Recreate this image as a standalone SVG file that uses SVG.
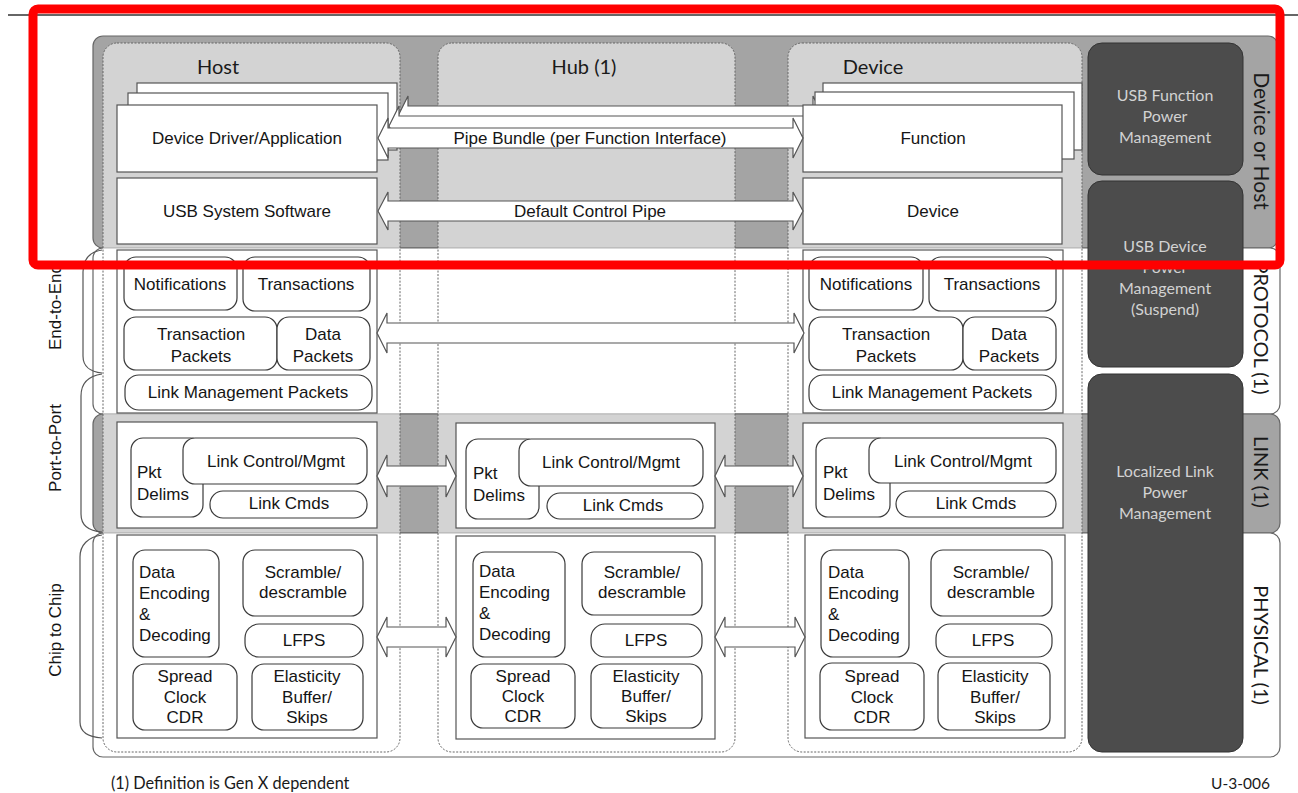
<svg xmlns="http://www.w3.org/2000/svg" width="1298" height="793" viewBox="0 0 1298 793">
  <defs>
    <style>
      .band-g { fill:#a4a4a4; stroke:#666; stroke-width:1.2; }
      .band-w { fill:#ffffff; stroke:#666; stroke-width:1.2; }
      .col { fill:#ffffff; fill-opacity:0.52; stroke:#666; stroke-width:1; stroke-dasharray:2 1.5; }
      .box { fill:#ffffff; stroke:#555; stroke-width:1.2; }
      .rb { fill:#ffffff; stroke:#3a3a3a; stroke-width:1.2; }
      .pm { fill:#4c4c4c; stroke:#333; stroke-width:1; }
      .arr { fill:#ffffff; stroke:#555; stroke-width:1.2; }
      .brk { fill:none; stroke:#555; stroke-width:1.2; }
      .t { font-family:"Liberation Sans", Arial, sans-serif; font-size:17px; fill:#151515; }
      .m { text-anchor:middle; }
      .c { font-family:Lato, "Open Sans", sans-serif; fill:#1a1a1a; }
      .pmt { font-family:Lato, "Open Sans", sans-serif; font-size:16px; fill:#d2d2d2; text-anchor:middle; }
    </style>
  </defs>

  <!-- rule across the top of the page -->
  <line x1="8" y1="15" x2="1298" y2="15" stroke="#333" stroke-width="1.5"/>

  <!-- layer bands -->
  <g id="bands">
    <rect class="band-g" x="93" y="36" width="1185" height="212" rx="10"/>
    <rect class="band-w" x="93" y="248" width="1187" height="166" rx="10"/>
    <rect class="band-g" x="93" y="414" width="1187" height="119" rx="10"/>
    <rect class="band-w" x="93" y="533" width="1187" height="224" rx="10"/>
  </g>

  <!-- left brackets -->
  <g id="brackets">
    <path class="brk" d="M102,250 C89,252 83,260 83,272 L83,356 C83,366 90,372 102,373"/>
    <path class="brk" d="M102,374 C88,376 81,384 81,396 L81,514 C81,525 88,531 102,532"/>
    <path class="brk" d="M102,535 C88,537 80,545 80,557 L80,722 C80,732 88,737 102,738"/>
  </g>

  <!-- column containers -->
  <g id="columns">
    <rect id="col-host" class="col" x="103" y="43" width="297" height="709" rx="14"/>
    <rect id="col-hub" class="col" x="438" y="43" width="297" height="709" rx="14"/>
    <rect id="col-device" class="col" x="788" y="43" width="294" height="709" rx="14"/>
  </g>

  <!-- column headings -->
  <text class="c m" x="218" y="74" font-size="20">Host</text>
  <text class="c m" x="584" y="74" font-size="20">Hub (1)</text>
  <text class="c m" x="873" y="74" font-size="20">Device</text>

  <!-- stacked function-interface pages and pipe bundle -->
  <g id="pipe-bundle-stack">
    <rect class="box" x="137" y="83" width="260" height="67"/>
    <rect class="box" x="823" y="83" width="259" height="67"/>
    <path class="arr" d="M398,116 L408,96 L408,106 L813,106 L813,96 L823,116 L813,136 L813,126 L408,126 L408,136 Z"/>
    <rect class="box" x="128" y="93" width="260" height="67"/>
    <rect class="box" x="815" y="92" width="259" height="67"/>
    <path class="arr" d="M389,126 L399,106 L399,116 L804,116 L804,106 L814,126 L804,146 L804,136 L399,136 L399,146 Z"/>
  </g>

  <g id="node-driver">
    <rect class="box" x="117" y="105" width="260" height="67"/>
    <text class="t m" x="247" y="144">Device Driver/Application</text>
  </g>
  <g id="node-function">
    <rect class="box" x="803" y="105" width="259" height="67"/>
    <text class="t m" x="933" y="144">Function</text>
  </g>
  <g id="node-usbsys">
    <rect class="box" x="117" y="178" width="260" height="66"/>
    <text class="t m" x="247" y="217">USB System Software</text>
  </g>
  <g id="node-device-top">
    <rect class="box" x="803" y="178" width="259" height="66"/>
    <text class="t m" x="933" y="217">Device</text>
  </g>

  <!-- host protocol -->
  <g id="host-protocol">
    <rect class="box" x="117" y="250" width="260" height="163"/>
    <g id="host-notifications"><rect class="rb" x="124" y="257" width="113" height="53" rx="12"/><text class="t m" x="180" y="290">Notifications</text></g>
    <g id="host-transactions"><rect class="rb" x="243" y="257" width="127" height="54" rx="12"/><text class="t m" x="306" y="290">Transactions</text></g>
    <g id="host-tp"><rect class="rb" x="124" y="317" width="153" height="53" rx="12"/><text class="t m" x="201" y="340">Transaction</text><text class="t m" x="201" y="362">Packets</text></g>
    <g id="host-dp"><rect class="rb" x="277" y="317" width="93" height="53" rx="12"/><text class="t m" x="323" y="340">Data</text><text class="t m" x="323" y="362">Packets</text></g>
    <g id="host-lmp"><rect class="rb" x="125" y="375" width="247" height="35" rx="14"/><text class="t m" x="248" y="398">Link Management Packets</text></g>
  </g>

  <!-- host link -->
  <g id="host-link">
    <rect class="box" x="117" y="422" width="260" height="106"/>
    <g id="host-pkt"><rect class="rb" x="131" y="438" width="72" height="79" rx="12"/><text class="t" x="137" y="478">Pkt</text><text class="t" x="137" y="500">Delims</text></g>
    <g id="host-lcm"><rect class="rb" x="183" y="438" width="184" height="46" rx="12"/><text class="t m" x="276" y="467">Link Control/Mgmt</text></g>
    <g id="host-cmds"><rect class="rb" x="210" y="491" width="157" height="27" rx="13"/><text class="t m" x="289" y="509">Link Cmds</text></g>
  </g>

  <!-- host physical -->
  <g id="host-physical">
    <rect class="box" x="117" y="535" width="260" height="203"/>
    <g id="host-enc"><rect class="rb" x="133" y="550" width="86" height="107" rx="12"/><text class="t" x="139" y="578">Data</text><text class="t" x="139" y="599">Encoding</text><text class="t" x="139" y="620">&amp;</text><text class="t" x="139" y="641">Decoding</text></g>
    <g id="host-scr"><rect class="rb" x="243" y="550" width="120" height="66" rx="12"/><text class="t m" x="303" y="578">Scramble/</text><text class="t m" x="303" y="598">descramble</text></g>
    <g id="host-lfps"><rect class="rb" x="245" y="624" width="118" height="33" rx="14"/><text class="t m" x="304" y="646">LFPS</text></g>
    <g id="host-ssc"><rect class="rb" x="133" y="664" width="104" height="66" rx="12"/><text class="t m" x="185" y="682">Spread</text><text class="t m" x="185" y="703">Clock</text><text class="t m" x="185" y="723">CDR</text></g>
    <g id="host-eb"><rect class="rb" x="252" y="664" width="111" height="66" rx="12"/><text class="t m" x="307" y="682">Elasticity</text><text class="t m" x="307" y="703">Buffer/</text><text class="t m" x="307" y="723">Skips</text></g>
  </g>

  <!-- hub link -->
  <g id="hub-link">
    <rect class="box" x="456" y="423" width="259" height="105"/>
    <g id="hub-pkt"><rect class="rb" x="466" y="439" width="73" height="80" rx="12"/><text class="t" x="473" y="479">Pkt</text><text class="t" x="473" y="501">Delims</text></g>
    <g id="hub-lcm"><rect class="rb" x="519" y="439" width="184" height="47" rx="12"/><text class="t m" x="611" y="468">Link Control/Mgmt</text></g>
    <g id="hub-cmds"><rect class="rb" x="547" y="493" width="156" height="26" rx="13"/><text class="t m" x="623" y="511">Link Cmds</text></g>
  </g>

  <!-- hub physical -->
  <g id="hub-physical">
    <rect class="box" x="456" y="536" width="259" height="203"/>
    <g id="hub-enc"><rect class="rb" x="473" y="552" width="92" height="105" rx="12"/><text class="t" x="479" y="577">Data</text><text class="t" x="479" y="598">Encoding</text><text class="t" x="479" y="619">&amp;</text><text class="t" x="479" y="640">Decoding</text></g>
    <g id="hub-scr"><rect class="rb" x="582" y="552" width="120" height="63" rx="12"/><text class="t m" x="642" y="578">Scramble/</text><text class="t m" x="642" y="598">descramble</text></g>
    <g id="hub-lfps"><rect class="rb" x="591" y="624" width="111" height="33" rx="14"/><text class="t m" x="646" y="646">LFPS</text></g>
    <g id="hub-ssc"><rect class="rb" x="471" y="664" width="104" height="64" rx="12"/><text class="t m" x="523" y="682">Spread</text><text class="t m" x="523" y="702">Clock</text><text class="t m" x="523" y="722">CDR</text></g>
    <g id="hub-eb"><rect class="rb" x="591" y="664" width="111" height="64" rx="12"/><text class="t m" x="646" y="682">Elasticity</text><text class="t m" x="646" y="702">Buffer/</text><text class="t m" x="646" y="722">Skips</text></g>
  </g>

  <!-- device protocol -->
  <g id="device-protocol">
    <rect class="box" x="803" y="250" width="260" height="163"/>
    <g id="dev-notifications"><rect class="rb" x="809" y="257" width="114" height="53" rx="12"/><text class="t m" x="866" y="290">Notifications</text></g>
    <g id="dev-transactions"><rect class="rb" x="929" y="257" width="127" height="54" rx="12"/><text class="t m" x="992" y="290">Transactions</text></g>
    <g id="dev-tp"><rect class="rb" x="809" y="317" width="154" height="53" rx="12"/><text class="t m" x="886" y="340">Transaction</text><text class="t m" x="886" y="362">Packets</text></g>
    <g id="dev-dp"><rect class="rb" x="963" y="317" width="93" height="53" rx="12"/><text class="t m" x="1009" y="340">Data</text><text class="t m" x="1009" y="362">Packets</text></g>
    <g id="dev-lmp"><rect class="rb" x="809" y="375" width="247" height="35" rx="14"/><text class="t m" x="932" y="398">Link Management Packets</text></g>
  </g>

  <!-- device link -->
  <g id="device-link">
    <rect class="box" x="803" y="423" width="260" height="105"/>
    <g id="dev-pkt"><rect class="rb" x="816" y="438" width="74" height="79" rx="12"/><text class="t" x="823" y="478">Pkt</text><text class="t" x="823" y="500">Delims</text></g>
    <g id="dev-lcm"><rect class="rb" x="869" y="438" width="187" height="45" rx="12"/><text class="t m" x="963" y="467">Link Control/Mgmt</text></g>
    <g id="dev-cmds"><rect class="rb" x="896" y="491" width="160" height="26" rx="13"/><text class="t m" x="976" y="509">Link Cmds</text></g>
  </g>

  <!-- device physical -->
  <g id="device-physical">
    <rect class="box" x="805" y="535" width="260" height="203"/>
    <g id="dev-enc"><rect class="rb" x="821" y="550" width="88" height="107" rx="12"/><text class="t" x="828" y="578">Data</text><text class="t" x="828" y="599">Encoding</text><text class="t" x="828" y="620">&amp;</text><text class="t" x="828" y="641">Decoding</text></g>
    <g id="dev-scr"><rect class="rb" x="931" y="550" width="121" height="66" rx="12"/><text class="t m" x="991" y="578">Scramble/</text><text class="t m" x="991" y="598">descramble</text></g>
    <g id="dev-lfps"><rect class="rb" x="936" y="624" width="116" height="33" rx="14"/><text class="t m" x="993" y="646">LFPS</text></g>
    <g id="dev-ssc"><rect class="rb" x="820" y="663" width="104" height="67" rx="12"/><text class="t m" x="872" y="682">Spread</text><text class="t m" x="872" y="703">Clock</text><text class="t m" x="872" y="723">CDR</text></g>
    <g id="dev-eb"><rect class="rb" x="938" y="663" width="112" height="67" rx="12"/><text class="t m" x="995" y="682">Elasticity</text><text class="t m" x="995" y="703">Buffer/</text><text class="t m" x="995" y="723">Skips</text></g>
  </g>

  <!-- double-headed block connectors -->
  <g id="connectors">
    <path class="arr" d="M378,138 L388,118 L388,128 L793,128 L793,118 L803,138 L793,158 L793,148 L388,148 L388,158 Z"/>
    <text class="t m" x="590" y="144" font-size="17.5">Pipe Bundle (per Function Interface)</text>
    <path class="arr" d="M378,211 L388,192 L388,201 L793,201 L793,192 L803,211 L793,230 L793,221 L388,221 L388,230 Z"/>
    <text class="t m" x="590" y="217">Default Control Pipe</text>
    <path class="arr" d="M377,333 L387,313 L387,323 L794,323 L794,313 L804,333 L794,353 L794,343 L387,343 L387,353 Z"/>
    <path class="arr" d="M377,476 L387,455 L387,466 L446,466 L446,455 L456,476 L446,497 L446,486 L387,486 L387,497 Z"/>
    <path class="arr" d="M715,476 L725,455 L725,466 L793,466 L793,455 L803,476 L793,497 L793,486 L725,486 L725,497 Z"/>
    <path class="arr" d="M377,637 L387,617 L387,627 L446,627 L446,617 L456,637 L446,657 L446,647 L387,647 L387,657 Z"/>
    <path class="arr" d="M715,637 L725,617 L725,627 L795,627 L795,617 L805,637 L795,657 L795,647 L725,647 L725,657 Z"/>
  </g>

  <!-- power management blocks -->
  <g id="pm-function">
    <rect class="pm" x="1088" y="43" width="155" height="132" rx="14"/>
    <text class="pmt" x="1165" y="101">USB Function</text>
    <text class="pmt" x="1165" y="122">Power</text>
    <text class="pmt" x="1165" y="143">Management</text>
  </g>
  <g id="pm-device">
    <rect class="pm" x="1088" y="181" width="155" height="186" rx="14"/>
    <text class="pmt" x="1165" y="252">USB Device</text>
    <text class="pmt" x="1165" y="273">Power</text>
    <text class="pmt" x="1165" y="294">Management</text>
    <text class="pmt" x="1165" y="315">(Suspend)</text>
  </g>
  <g id="pm-link">
    <rect class="pm" x="1088" y="374" width="155" height="378" rx="14"/>
    <text class="pmt" x="1165" y="477">Localized Link</text>
    <text class="pmt" x="1165" y="498">Power</text>
    <text class="pmt" x="1165" y="519">Management</text>
  </g>

  <!-- layer names -->
  <g id="layer-labels">
    <text class="c m" font-size="21" transform="translate(1261,141) rotate(90)" y="7">Device or Host</text>
    <text class="c m" font-size="20" transform="translate(1261,328) rotate(90)" y="7">PROTOCOL (1)</text>
    <text class="c m" font-size="20" transform="translate(1261,472) rotate(90)" y="7">LINK (1)</text>
    <text class="c m" font-size="20" transform="translate(1261,645) rotate(90)" y="7">PHYSICAL (1)</text>
    <text class="t m" transform="translate(55,307) rotate(-90)" y="6">End-to-End</text>
    <text class="t m" transform="translate(55,448) rotate(-90)" y="6">Port-to-Port</text>
    <text class="t m" transform="translate(55,630) rotate(-90)" y="6">Chip to Chip</text>
  </g>

  <!-- footnotes -->
  <text class="c" x="111" y="789" font-size="16.3">(1) Definition is Gen X dependent</text>
  <text class="c" x="1270" y="789" font-size="15.5" text-anchor="end">U-3-006</text>

  <!-- highlight frame -->
  <rect x="33" y="9" width="1247" height="256" rx="5" fill="none" stroke="#ff0000" stroke-width="9"/>
</svg>
